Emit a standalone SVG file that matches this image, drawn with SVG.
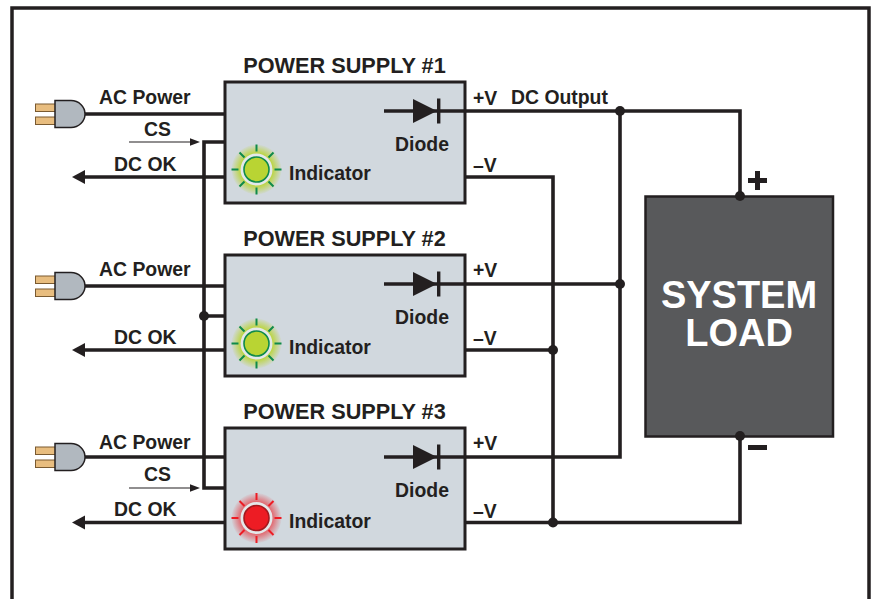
<svg xmlns="http://www.w3.org/2000/svg" width="872" height="599" viewBox="0 0 872 599">
<style>
text{font-family:"Liberation Sans",Arial,sans-serif;font-weight:bold;fill:#231f20;font-size:19.400px}
.t{font-size:21.700px}
.m{text-anchor:middle}
.box{fill:#d1d8de;stroke:#231f20;stroke-width:3}
.w{fill:none;stroke:#231f20;stroke-width:3.600}
.thin{fill:none;stroke:#231f20;stroke-width:1.200}
.dot{fill:#231f20}
.prong{fill:#e8bd7f;stroke:#7a5a30;stroke-width:1}
.body{fill:#b1b8bf;stroke:#231f20;stroke-width:1.500}
.ray{stroke-width:2;fill:none}
.big{fill:#fff;font-size:38px;text-anchor:middle}
</style>
<defs>
<radialGradient id="gg"><stop offset=".6" stop-color="#b9d433"/><stop offset="1" stop-color="#b9d433" stop-opacity=".05"/></radialGradient>
<radialGradient id="rg"><stop offset=".6" stop-color="#ed1c24" stop-opacity=".65"/><stop offset="1" stop-color="#ed1c24" stop-opacity=".03"/></radialGradient>
<g id="plug">
<rect class="prong" x="35.500" y="-10" width="20" height="7.500"/>
<rect class="prong" x="35.500" y="3" width="20" height="7.500"/>
<path class="body" d="M55 -13.500H71A14 13.500 0 0 1 71 13.500H55Z"/>
</g>
<g id="diode">
<path class="w" d="M0 0H81"/>
<path class="dot" d="M29 -12L53 0L29 12Z"/>
<rect class="dot" x="53" y="-12.500" width="3.400" height="25"/>
</g>
<g id="rays">
<path d="M0 -25V-18M0 25V18M-25 0H-18M25 0H18M-17 -17L-12 -12M17 -17L12 -12M-17 17L-12 12M17 17L12 12"/>
</g>
<path id="tip" d="M0 0L13 -7V7Z" fill="#231f20"/>
<path id="ctip" d="M0 0L-10 -3.800V3.800Z" fill="#231f20"/>
</defs>
<rect x="12" y="8" width="857" height="640" fill="#fff" stroke="#231f20" stroke-width="3.500"/>

<g id="load">
<rect x="645.500" y="196.500" width="187.500" height="240" fill="#58595b" stroke="#231f20" stroke-width="2.500"/>
<text x="739" y="308" class="big">SYSTEM</text>
<text x="739" y="346" class="big">LOAD</text>
</g>

<g id="connectors">
<path class="w" d="M85 114H225M85 286H225M85 457H225"/>
<path class="w" d="M225 142H204V488H225M204 316H225"/>
<path class="w" d="M84 177H225M84 350H225M84 522.500H225"/>
<use href="#tip" x="72" y="177"/><use href="#tip" x="72" y="350"/><use href="#tip" x="72" y="522.500"/>
<path class="thin" d="M129 142H192M129 488H192"/>
<use href="#ctip" x="200" y="142"/><use href="#ctip" x="200" y="488"/>
<path class="w" d="M465 111H740V196M465 284H620M465 457H620V111"/>
<path class="w" d="M465 177H553V522.500M465 350H553M465 522.500H740V436"/>
<circle class="dot" cx="620" cy="111" r="5"/><circle class="dot" cx="620" cy="284" r="5"/>
<circle class="dot" cx="204" cy="316" r="5"/>
<circle class="dot" cx="553" cy="350" r="5"/><circle class="dot" cx="553" cy="522.500" r="5"/>
<circle class="dot" cx="740" cy="196" r="5"/><circle class="dot" cx="740" cy="436" r="5"/>
</g>

<g id="plug1"><use href="#plug" y="114"/></g>
<g id="plug2"><use href="#plug" y="286"/></g>
<g id="plug3"><use href="#plug" y="457"/></g>

<g id="ps1">
<rect class="box" x="225" y="82" width="240" height="121"/>
<text class="t m" x="344.500" y="73">POWER SUPPLY #1</text>
<use href="#diode" x="384" y="111"/>
<text class="m" x="422" y="151">Diode</text>
<circle cx="256.500" cy="169.500" r="25" fill="url(#gg)"/>
<circle cx="256.500" cy="169.500" r="16" fill="#e4e8ea"/>
<circle cx="256.500" cy="169.500" r="12.500" fill="#b9d433" stroke="#0f8a4a" stroke-width="1.600"/>
<use href="#rays" x="256.500" y="169.500" class="ray" stroke="#0f8a4a"/>
<text x="289" y="180">Indicator</text>
</g>
<g id="ps2">
<rect class="box" x="225" y="255" width="240" height="121"/>
<text class="t m" x="344.500" y="246">POWER SUPPLY #2</text>
<use href="#diode" x="384" y="284"/>
<text class="m" x="422" y="324">Diode</text>
<circle cx="256.500" cy="343.500" r="25" fill="url(#gg)"/>
<circle cx="256.500" cy="343.500" r="16" fill="#e4e8ea"/>
<circle cx="256.500" cy="343.500" r="12.500" fill="#b9d433" stroke="#0f8a4a" stroke-width="1.600"/>
<use href="#rays" x="256.500" y="343.500" class="ray" stroke="#0f8a4a"/>
<text x="289" y="354">Indicator</text>
</g>
<g id="ps3">
<rect class="box" x="225" y="428" width="240" height="121"/>
<text class="t m" x="344.500" y="419">POWER SUPPLY #3</text>
<use href="#diode" x="384" y="457"/>
<text class="m" x="422" y="497">Diode</text>
<circle cx="256.500" cy="518" r="25" fill="url(#rg)"/>
<circle cx="256.500" cy="518" r="16" fill="#e4e8ea"/>
<circle cx="256.500" cy="518" r="12.500" fill="#ed1c24" stroke="#a3191f" stroke-width="1.600"/>
<use href="#rays" x="256.500" y="518" class="ray" stroke="#ed1c24"/>
<text x="289" y="528">Indicator</text>
</g>

<rect class="dot" x="748" y="178" width="19" height="5"/><rect class="dot" x="755" y="171" width="5" height="19"/>
<rect class="dot" x="748" y="445" width="19" height="5"/>

<g id="labels">
<text x="99" y="104">AC Power</text><text x="99" y="276">AC Power</text><text x="99" y="449">AC Power</text>
<text x="144" y="136">CS</text><text x="144" y="481">CS</text>
<text x="114" y="171">DC OK</text><text x="114" y="344">DC OK</text><text x="114" y="516">DC OK</text>
<text x="473" y="105">+V</text><text x="511" y="104">DC Output</text>
<text x="473" y="172">–V</text>
<text x="473" y="277">+V</text><text x="473" y="345">–V</text>
<text x="473" y="450">+V</text><text x="473" y="518">–V</text>
</g>
</svg>
